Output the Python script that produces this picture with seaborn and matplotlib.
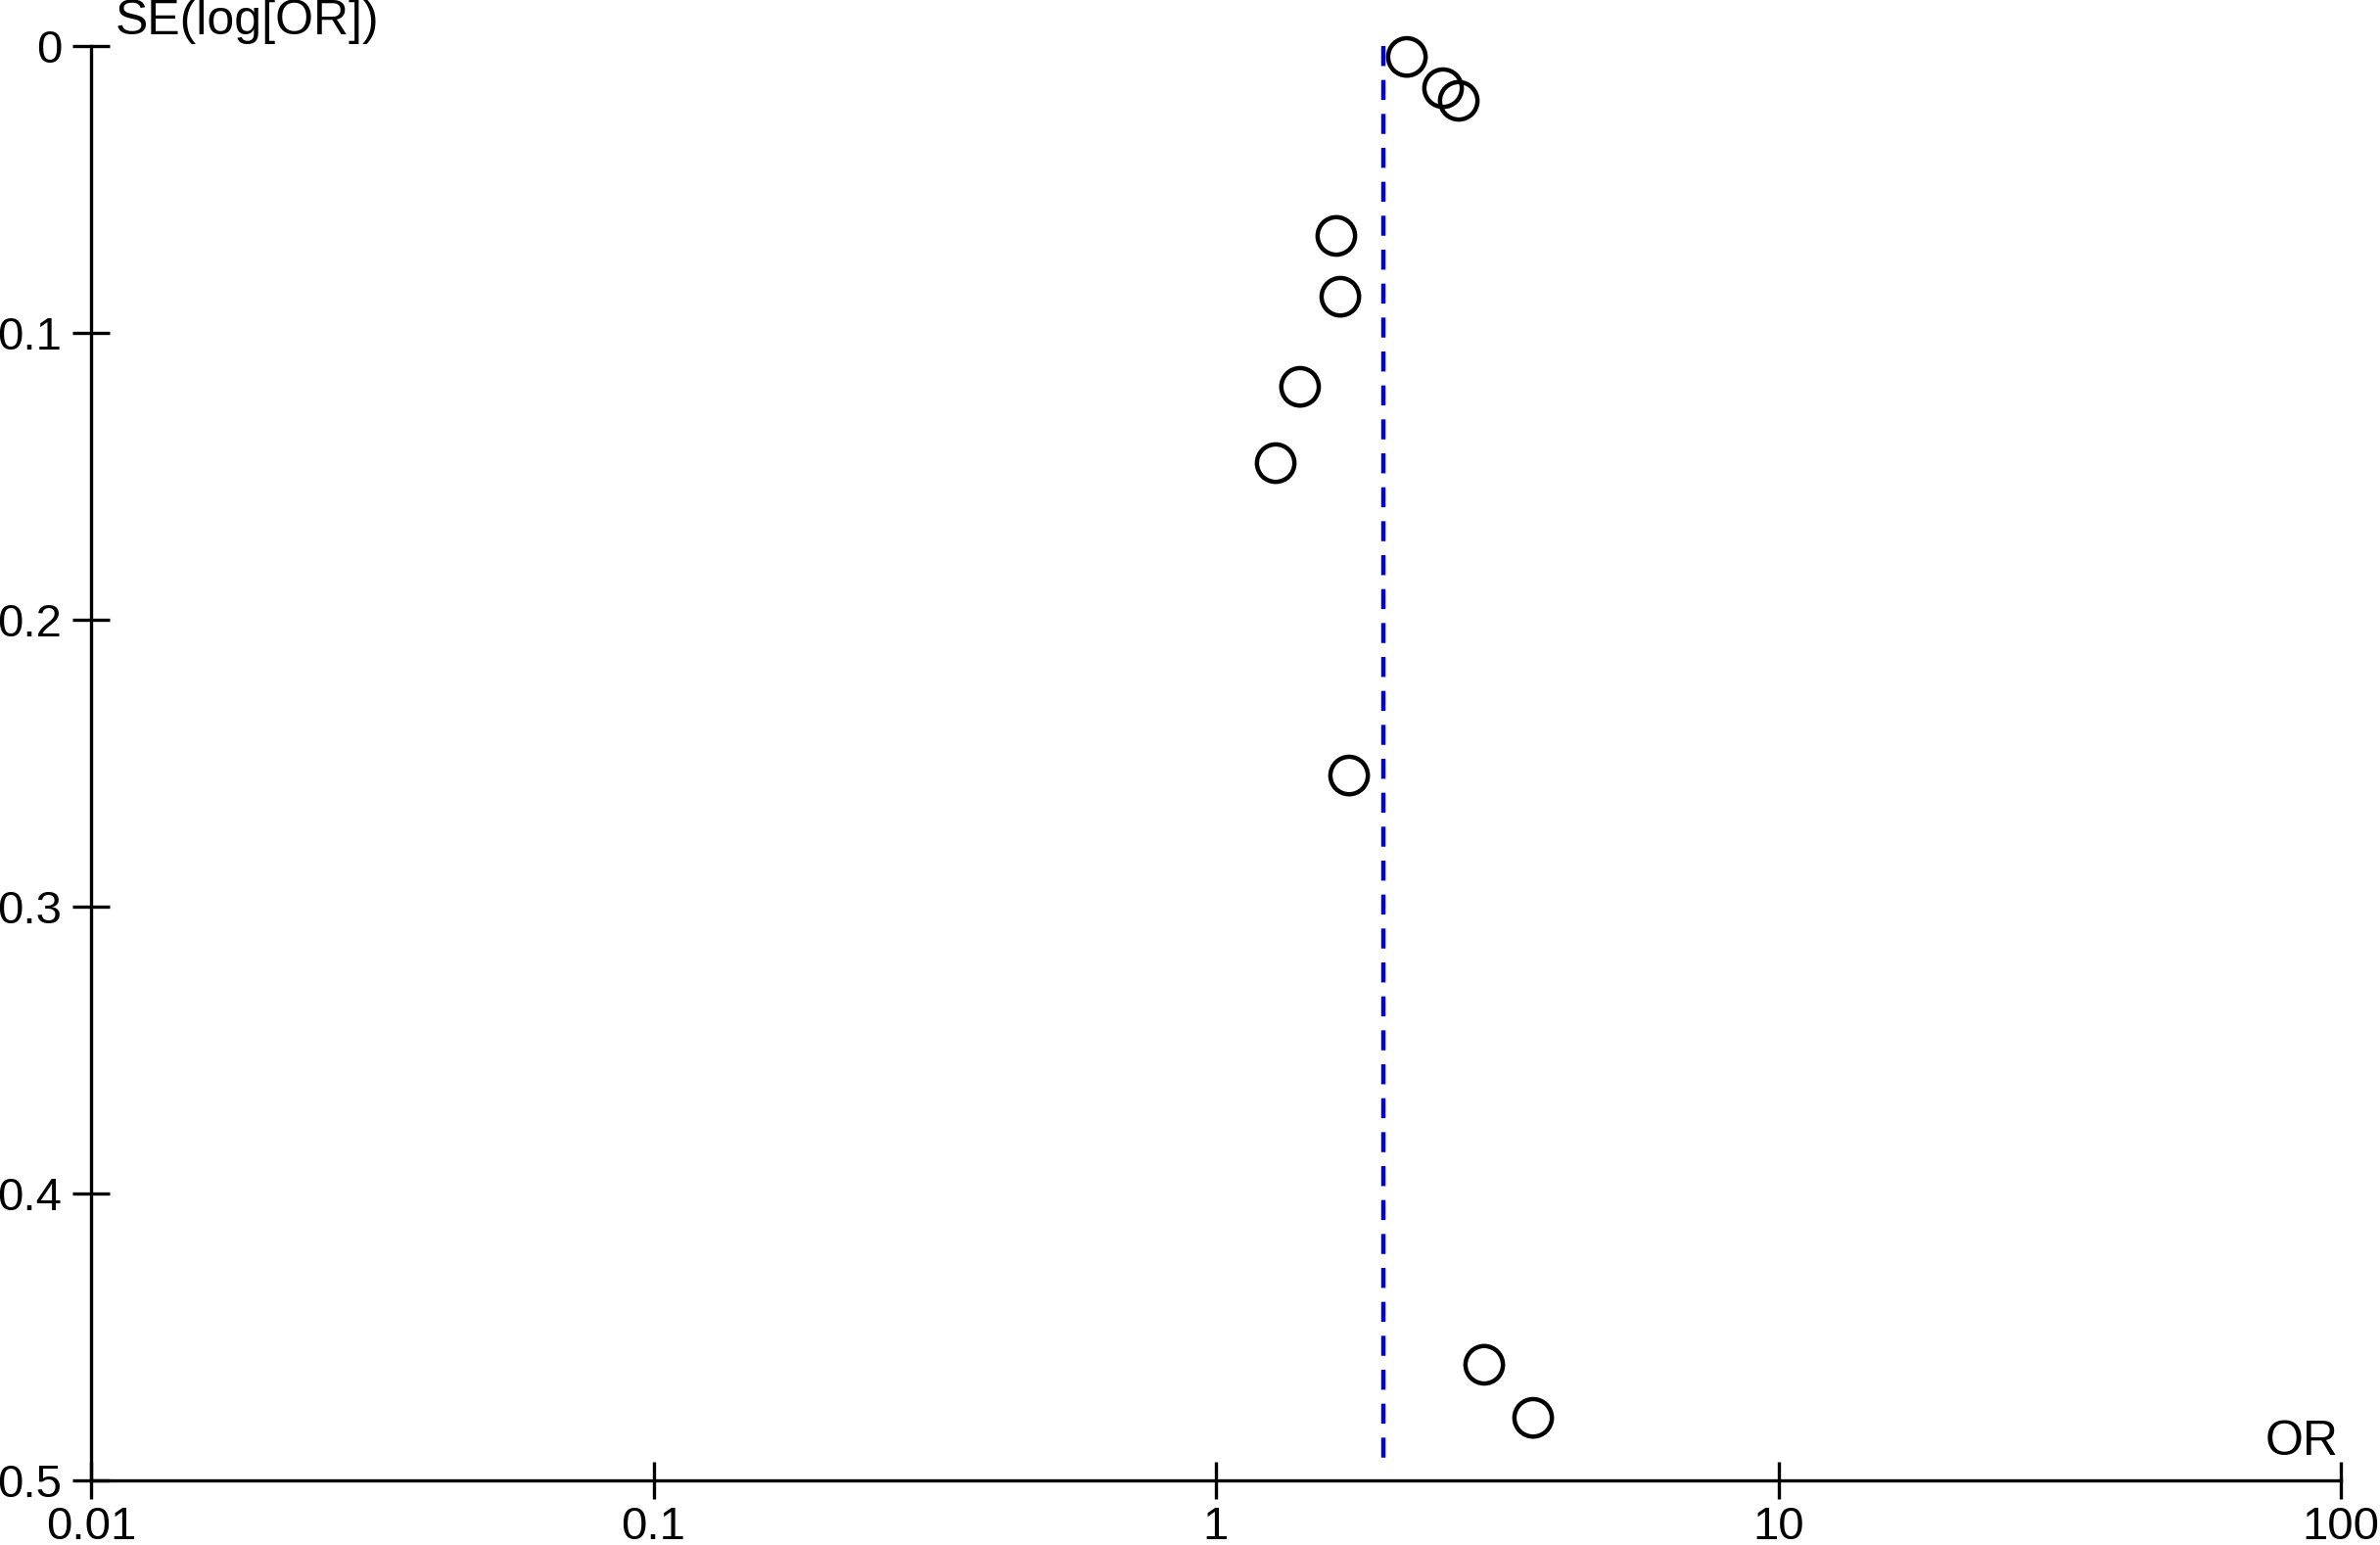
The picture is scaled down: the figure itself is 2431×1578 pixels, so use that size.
import matplotlib
matplotlib.use("Agg")
import matplotlib.pyplot as plt
import seaborn as sns
import pandas as pd

# Data
odds_ratio = [2.185, 2.534, 2.702, 1.637, 1.664, 1.411, 1.277, 1.725, 2.999, 3.664]
se_log_or = [0.0038, 0.0147, 0.0191, 0.0662, 0.0874, 0.1188, 0.1454, 0.2543, 0.4597, 0.4782]
pooled_or = 1.985
pooled_line_se = [0.0, 0.494]
x_ticks = [0.01, 0.1, 1, 10, 100]
x_tick_labels = ["0.01", "0.1", "1", "10", "100"]
y_ticks = [0, 0.1, 0.2, 0.3, 0.4, 0.5]
y_tick_labels = ["0", "0.1", "0.2", "0.3", "0.4", "0.5"]

df = pd.DataFrame({"OR": odds_ratio, "SE": se_log_or})

sns.set_theme(style="white")
plt.rcParams["font.family"] = ["Liberation Sans", "DejaVu Sans"]

W, H = 2431, 1578
fig = plt.figure(figsize=(W / 100, H / 100), dpi=100)
ax = fig.add_axes([93 / W, 1 - 1512 / H, (2391 - 93) / W, (1512 - 47) / H])

ax.plot([pooled_or, pooled_or], pooled_line_se, color="#0000DD", linewidth=3.2,
        dashes=(4.6, 3.2), solid_capstyle="butt", dash_capstyle="butt",
        zorder=1, clip_on=False)

sns.scatterplot(data=df, x="OR", y="SE", ax=ax, s=760, marker="o",
                facecolor="none", edgecolor="black", linewidth=3.2, zorder=3,
                legend=False, clip_on=False)

ax.set_xscale("log")
ax.set_xlim(0.01, 100)
ax.set_ylim(0.5, 0)
ax.set_xticks(x_ticks)
ax.set_xticklabels(x_tick_labels)
ax.set_yticks(y_ticks)
ax.set_yticklabels(y_tick_labels)
ax.minorticks_off()
ax.set_xlabel("")
ax.set_ylabel("")

for side in ["top", "right"]:
    ax.spines[side].set_visible(False)
for side in ["left", "bottom"]:
    ax.spines[side].set_color("black")
    ax.spines[side].set_linewidth(2.4)

ax.tick_params(axis="both", which="major", direction="inout", length=27,
               width=2.4, color="black", labelsize=34, labelcolor="black",
               bottom=True, left=True)
ax.tick_params(axis="x", pad=5)
ax.tick_params(axis="y", pad=8)
ax.grid(False)

fig.text(118 / W, 1 - 22 / H, "SE(log[OR])", fontsize=36, ha="left", va="center",
         color="black")
fig.text(2388 / W, 1 - 1473 / H, "OR", fontsize=36, ha="right", va="center",
         color="black")

fig.savefig("out.png", dpi=100, facecolor="white")
